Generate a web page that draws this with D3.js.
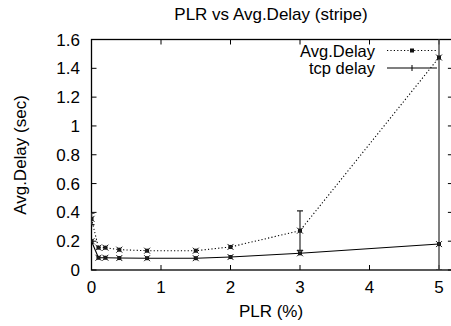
<!DOCTYPE html>
<html><head><meta charset="utf-8">
<script src="https://cdn.jsdelivr.net/npm/d3@7"></script>
<style>
html,body{margin:0;padding:0;background:#fff;}
svg{display:block;}
text{font-family:"Liberation Sans",Arial,sans-serif;fill:#000;}
</style></head>
<body>
<svg id="c" width="451" height="326"></svg>
<script>
const plr = [0, 0.1, 0.2, 0.4, 0.8, 1.5, 2, 3, 5];
const avgDelay = [0.355, 0.155, 0.155, 0.141, 0.134, 0.134, 0.16, 0.273, 1.475];
const avgErr = [0.04, 0, 0, 0, 0, 0, 0, 0.137, 1.6];
const tcpDelay = [0.2, 0.085, 0.085, 0.083, 0.082, 0.082, 0.09, 0.116, 0.18];
const xTicks = [0, 1, 2, 3, 4, 5];
const yTicks = [0, 0.2, 0.4, 0.6, 0.8, 1, 1.2, 1.4, 1.6];
const seriesNames = ["Avg.Delay", "tcp delay"];

const svg = d3.select("#c");
const L = 91.5, R = 452.9, T = 39.5, B = 270;
const x = d3.scaleLinear().domain([0, 5.2]).range([L, R]);
const y = d3.scaleLinear().domain([0, 1.6]).range([B, T]);
const fs = 17;

// title
svg.append("text").attr("x", 271).attr("y", 19.5).attr("text-anchor", "middle")
  .attr("font-size", fs).text("PLR vs Avg.Delay (stripe)");

// frame
svg.append("rect").attr("x", L).attr("y", T).attr("width", R - L).attr("height", B - T)
  .attr("fill", "none").attr("stroke", "#000").attr("stroke-width", 1.3);

// ticks (inside, mirrored)
const tl = 5;
const g = svg.append("g").attr("stroke", "#000").attr("stroke-width", 1);
xTicks.forEach(v => {
  g.append("line").attr("x1", x(v)).attr("x2", x(v)).attr("y1", B).attr("y2", B - tl);
  g.append("line").attr("x1", x(v)).attr("x2", x(v)).attr("y1", T).attr("y2", T + tl);
});
yTicks.forEach(v => {
  g.append("line").attr("x1", L).attr("x2", L + tl).attr("y1", y(v)).attr("y2", y(v));
  g.append("line").attr("x1", R).attr("x2", R - tl).attr("y1", y(v)).attr("y2", y(v));
});
// tick labels
xTicks.forEach(v => {
  svg.append("text").attr("x", x(v)).attr("y", 293).attr("text-anchor", "middle")
    .attr("font-size", fs).text(d3.format("~g")(v));
});
yTicks.forEach(v => {
  svg.append("text").attr("x", 80).attr("y", y(v) + 6).attr("text-anchor", "end")
    .attr("font-size", fs).text(d3.format("~g")(v));
});
// axis labels
svg.append("text").attr("x", 271).attr("y", 317).attr("text-anchor", "middle")
  .attr("font-size", fs).text("PLR (%)");
svg.append("text").attr("transform", "translate(26,155) rotate(-90)").attr("text-anchor", "middle")
  .attr("font-size", fs).text("Avg.Delay (sec)");

// clip
svg.append("clipPath").attr("id", "clip").append("rect")
  .attr("x", L).attr("y", T).attr("width", R - L).attr("height", B - T);
const plot = svg.append("g").attr("clip-path", "url(#clip)");

const avgData = plr.map((p, i) => ({x: p, y: avgDelay[i], e: avgErr[i]}));
const tcpData = plr.map((p, i) => ({x: p, y: tcpDelay[i]}));
const line = d3.line().x(d => x(d.x)).y(d => y(d.y));

// error bars
avgData.filter(d => d.e > 0).forEach(d => {
  const lo = Math.max(0, d.y - d.e), hi = d.y + d.e;
  plot.append("line").attr("x1", x(d.x)).attr("x2", x(d.x)).attr("y1", y(lo)).attr("y2", y(hi))
    .attr("stroke", "#555").attr("stroke-width", 1.5);
  [lo, hi].forEach(v => {
    plot.append("line").attr("x1", x(d.x) - 3).attr("x2", x(d.x) + 3).attr("y1", y(v)).attr("y2", y(v))
      .attr("stroke", "#222").attr("stroke-width", 1.2);
  });
});

plot.append("path").datum(avgData).attr("d", line).attr("fill", "none")
  .attr("stroke", "#000").attr("stroke-width", 1.1).attr("stroke-dasharray", "1.2,2.2");
plot.append("path").datum(tcpData).attr("d", line).attr("fill", "none")
  .attr("stroke", "#000").attr("stroke-width", 1.1);

function marker(gg, cx, cy) {
  gg.append("rect").attr("x", cx - 2).attr("y", cy - 2).attr("width", 4).attr("height", 4)
    .attr("fill", "#111");
  gg.append("path").attr("d", `M${cx-3},${cy-3}L${cx+3},${cy+3}M${cx-3},${cy+3}L${cx+3},${cy-3}`)
    .attr("stroke", "#222").attr("stroke-width", 1);
}
avgData.forEach(d => marker(plot, x(d.x), y(d.y)));
tcpData.forEach(d => marker(plot, x(d.x), y(d.y)));

// legend
const legY = [50.5, 68];
const lfs = 16.5;
seriesNames.forEach((n, i) => {
  svg.append("text").attr("x", 375).attr("y", legY[i] + 6).attr("text-anchor", "end")
    .attr("font-size", lfs).text(n);
});
svg.append("line").attr("x1", 387).attr("x2", 437).attr("y1", legY[0]).attr("y2", legY[0])
  .attr("stroke", "#000").attr("stroke-width", 1.1).attr("stroke-dasharray", "1.2,2.2");
svg.append("rect").attr("x", 410).attr("y", legY[0] - 2).attr("width", 4).attr("height", 4).attr("fill", "#111");
svg.append("line").attr("x1", 387).attr("x2", 437).attr("y1", legY[1]).attr("y2", legY[1])
  .attr("stroke", "#000").attr("stroke-width", 1.1);
svg.append("line").attr("x1", 412).attr("x2", 412).attr("y1", legY[1] - 3).attr("y2", legY[1] + 3)
  .attr("stroke", "#000").attr("stroke-width", 1);
</script>
</body></html>
